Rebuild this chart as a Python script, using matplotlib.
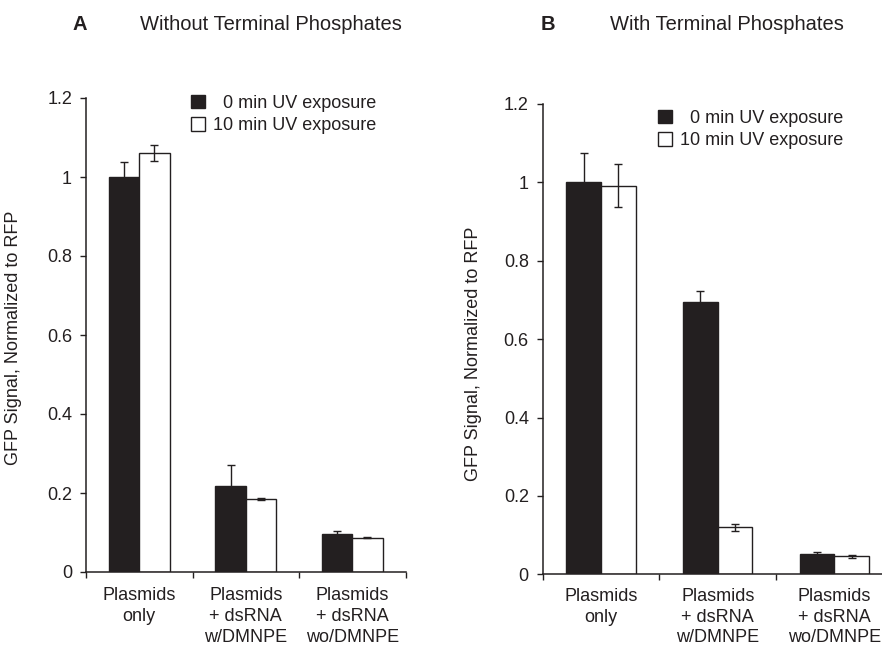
import matplotlib
matplotlib.use('Agg')
import matplotlib.pyplot as plt
from matplotlib.patches import Patch

plt.rcParams['font.family'] = ['Liberation Sans', 'DejaVu Sans']

categories = ["Plasmids\nonly", "Plasmids\n+ dsRNA\nw/DMNPE", "Plasmids\n+ dsRNA\nwo/DMNPE"]
series_labels = ["  0 min UV exposure", "10 min UV exposure"]
a_0min = [1.00, 0.217, 0.096]
a_0min_err = [0.037, 0.053, 0.007]
a_10min = [1.06, 0.185, 0.087]
a_10min_err = [0.02, 0.003, 0.002]
b_0min = [1.00, 0.694, 0.051]
b_0min_err = [0.075, 0.03, 0.005]
b_10min = [0.991, 0.12, 0.046]
b_10min_err = [0.055, 0.009, 0.004]
yticks = [0, 0.2, 0.4, 0.6, 0.8, 1, 1.2]
ytick_labels = ["0", "0.2", "0.4", "0.6", "0.8", "1", "1.2"]
panel_letters = ["A", "B"]
panel_titles = ["Without Terminal Phosphates", "With Terminal Phosphates"]
ylabel = "GFP Signal, Normalized to RFP"

DARK = '#231f20'
W, H = 882, 649
fig = plt.figure(figsize=(W / 100, H / 100), dpi=100)

def fx(px):
    return px / W

def fy(py):
    return 1 - py / H

# axes geometry in pixels: left, right, bottom(y of 0), top(y of 1.2)
geoms = [(86, 405.5, 572, 98), (542.7, 892.7, 574.3, 104)]
barw = [0.285, 0.297]
data = [(a_0min, a_0min_err, a_10min, a_10min_err),
        (b_0min, b_0min_err, b_10min, b_10min_err)]
legend_anchor = [(191, 95), (658, 110)]
title_pos = [(80, 140, 25), (548, 610, 25)]
ylabel_pos = [(22, 338), (482, 354)]
xlab_pad = [11, 10]

for i in range(2):
    l, r, b, t = geoms[i]
    ax = fig.add_axes([fx(l), fy(b), (r - l) / W, (b - t) / H])
    v0, e0, v1, e1 = data[i]
    w = barw[i]
    centers = [k + 0.5 for k in range(len(categories))]
    x0 = [c - w / 2 for c in centers]
    x1 = [c + w / 2 for c in centers]
    ax.bar(x0, v0, width=w, color=DARK, edgecolor=DARK, linewidth=1, zorder=2)
    ax.bar(x1, v1, width=w, color='white', edgecolor=DARK, linewidth=1, zorder=2)
    ax.errorbar(x0, v0, yerr=e0, fmt='none', ecolor=DARK, elinewidth=1,
                capsize=2.9, capthick=1, zorder=3)
    ax.errorbar(x1, v1, yerr=e1, fmt='none', ecolor=DARK, elinewidth=1,
                capsize=2.9, capthick=1, zorder=3)
    ax.set_xlim(0, 3)
    ax.set_ylim(0, 1.2)
    for s in ['top', 'right']:
        ax.spines[s].set_visible(False)
    for s in ['left', 'bottom']:
        ax.spines[s].set_color(DARK)
        ax.spines[s].set_linewidth(1.1)
    ax.set_yticks(yticks)
    ax.set_yticklabels(ytick_labels, fontsize=13, color=DARK)
    ax.tick_params(axis='y', direction='out', length=4, width=1, pad=6, colors=DARK)
    ax.set_xticks([0, 1, 2, 3])
    ax.set_xticklabels([])
    ax.tick_params(axis='x', which='major', direction='out', length=4, width=1, colors=DARK)
    ax.set_xticks(centers, minor=True)
    ax.set_xticklabels(categories, minor=True, fontsize=13, color=DARK, linespacing=1.28)
    ax.tick_params(axis='x', which='minor', length=0, pad=xlab_pad[i])
    ax.set_ylabel(ylabel, fontsize=13, color=DARK)
    lx, ly = ylabel_pos[i]
    ax.yaxis.set_label_coords((lx - l) / (r - l), (b - ly) / (b - t))

    handles = [Patch(facecolor=DARK, edgecolor=DARK, linewidth=1),
               Patch(facecolor='white', edgecolor=DARK, linewidth=1)]
    ax_, ay_ = legend_anchor[i]
    fig.legend(handles, series_labels, loc='upper left',
               bbox_to_anchor=(fx(ax_), fy(ay_)), frameon=False, fontsize=13,
               handlelength=0.77, handleheight=0.77, handletextpad=0.45,
               labelspacing=0.3, borderpad=0, borderaxespad=0, labelcolor=DARK)

    px_letter, px_title, py_title = title_pos[i]
    fig.text(fx(px_letter), fy(py_title), panel_letters[i], fontsize=14.5,
             fontweight='bold', ha='center', va='center', color=DARK)
    fig.text(fx(px_title), fy(py_title), panel_titles[i], fontsize=14.5,
             ha='left', va='center', color=DARK)

fig.savefig('out.png', dpi=100)
